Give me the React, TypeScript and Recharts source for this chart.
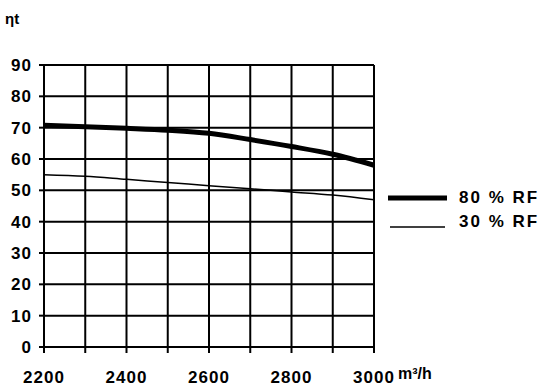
import React from 'react';
import { LineChart, Line, XAxis, YAxis, CartesianGrid, Legend } from 'recharts';

const flowRates = [2200, 2300, 2400, 2500, 2600, 2700, 2800, 2900, 3000];
const rf80 = [70.8, 70.3, 69.8, 69.2, 68.2, 66.2, 64, 61.5, 58];
const rf30 = [55, 54.5, 53.5, 52.5, 51.5, 50.5, 49.5, 48.5, 47];
const yTicks = [0, 10, 20, 30, 40, 50, 60, 70, 80, 90];
const xLabelled = [2200, 2400, 2600, 2800, 3000];
const seriesNames = ['80 % RF', '30 % RF'];
const yTitle = 'ηt';
const xUnit = 'm³/h';

const data = flowRates.map((q, i) => ({ q, rf80: rf80[i], rf30: rf30[i] }));

const FONT = '"Liberation Sans", Arial, sans-serif';
const tickStyle = { fill: '#000', fontSize: 17, fontWeight: 'bold', fontFamily: FONT, letterSpacing: 1 };

const LegendContent = () => (
  <div style={{ fontFamily: FONT, fontWeight: 'bold', fontSize: 17, color: '#000', letterSpacing: 2 }}>
    <div style={{ display: 'flex', alignItems: 'center', height: 24 }}>
      <svg width={73} height={24}>
        <line x1={2} x2={61} y1={12} y2={12} stroke="#000" strokeWidth={5} />
      </svg>
      <span>{seriesNames[0]}</span>
    </div>
    <div style={{ display: 'flex', alignItems: 'center', height: 24 }}>
      <svg width={73} height={24}>
        <line x1={4} x2={59} y1={17} y2={17} stroke="#000" strokeWidth={1.5} />
      </svg>
      <span>{seriesNames[1]}</span>
    </div>
  </div>
);

export default function App() {
  return (
    <div style={{ position: 'absolute', left: 0, top: 0, width: 541, height: 389, background: '#fff' }}>
      <LineChart width={541} height={389} data={data} margin={{ top: 65, right: 167, left: 0, bottom: 0 }}>
        <CartesianGrid stroke="#000" strokeWidth={2} />
        <XAxis
          dataKey="q"
          type="number"
          domain={[2200, 3000]}
          ticks={flowRates}
          interval={0}
          height={42}
          axisLine={{ stroke: '#000', strokeWidth: 2 }}
          tickLine={{ stroke: '#000', strokeWidth: 2 }}
          tickSize={6}
          tickMargin={18}
          tick={tickStyle}
          tickFormatter={(v: number) => (xLabelled.includes(v) ? String(v) : '')}
          label={{
            content: (props: any) => {
              const vb = props.viewBox || { x: 44, y: 347, width: 330 };
              return (
                <text x={vb.x + vb.width + 24} y={vb.y + 32} fill="#000" fontSize={16} fontWeight="bold" fontFamily={FONT}>
                  {xUnit}
                </text>
              );
            },
          }}
        />
        <YAxis
          type="number"
          domain={[0, 90]}
          ticks={yTicks}
          interval={0}
          width={44}
          axisLine={{ stroke: '#000', strokeWidth: 2 }}
          tickLine={{ stroke: '#000', strokeWidth: 2 }}
          tickSize={5}
          tickMargin={7}
          tick={tickStyle}
          label={{
            content: () => (
              <text x={5} y={24} fill="#000" fontSize={15} fontWeight="bold" fontFamily={FONT}>
                {yTitle}
              </text>
            ),
          }}
        />
        <Legend
          layout="vertical"
          align="center"
          verticalAlign="middle"
          content={LegendContent}
          wrapperStyle={{ position: 'absolute', left: 386, top: 186, width: 155, height: 50 }}
        />
        <Line type="monotone" dataKey="rf80" name={seriesNames[0]} stroke="#000" strokeWidth={5} dot={false} isAnimationActive={false} />
        <Line type="monotone" dataKey="rf30" name={seriesNames[1]} stroke="#000" strokeWidth={1.5} dot={false} isAnimationActive={false} />
      </LineChart>
    </div>
  );
}
